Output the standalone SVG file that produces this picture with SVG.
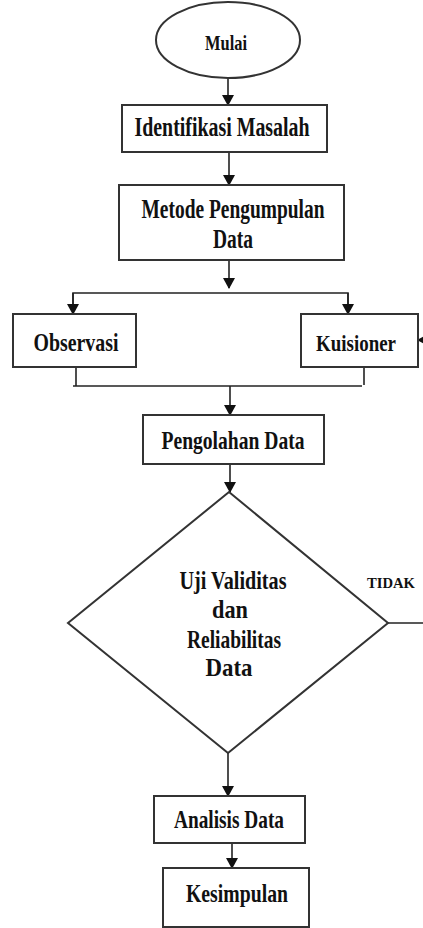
<svg xmlns="http://www.w3.org/2000/svg" width="423" height="928" viewBox="0 0 423 928">
<style>
.b{fill:#fff;stroke:#333;stroke-width:2}
.c{fill:none;stroke:#222;stroke-width:1.6}
.t{font-family:"Liberation Serif","Times New Roman",serif;font-weight:bold;fill:#111;text-anchor:middle}
</style>
<defs>
<marker id="ah" markerUnits="userSpaceOnUse" markerWidth="12" markerHeight="14" refX="10" refY="6" orient="auto">
<path d="M0,0 L11,6 L0,12 Z" fill="#111"/>
</marker>
</defs>
<g id="connectors">
<line class="c" x1="228" y1="78" x2="228" y2="105" marker-end="url(#ah)"/>
<line class="c" x1="229" y1="152" x2="229" y2="185" marker-end="url(#ah)"/>
<line class="c" x1="229" y1="260" x2="229" y2="288" marker-end="url(#ah)"/>
<polyline class="c" points="73,314 73,293 348,293 348,314"/>
<line class="c" x1="73" y1="293" x2="73" y2="314" marker-end="url(#ah)"/>
<line class="c" x1="348" y1="293" x2="348" y2="314" marker-end="url(#ah)"/>
<line class="c" x1="76" y1="367" x2="76" y2="386"/>
<line class="c" x1="364" y1="367" x2="364" y2="385"/>
<line class="c" x1="73" y1="386" x2="362" y2="386"/>
<line class="c" x1="230" y1="386" x2="230" y2="415" marker-end="url(#ah)"/>
<line class="c" x1="230" y1="464" x2="230" y2="492" marker-end="url(#ah)"/>
<line class="c" x1="388" y1="623" x2="423" y2="623"/>
<line class="c" x1="428" y1="340" x2="418" y2="340" marker-end="url(#ah)"/>
<line class="c" x1="228" y1="753" x2="228" y2="796" marker-end="url(#ah)"/>
<line class="c" x1="232" y1="843" x2="232" y2="868" marker-end="url(#ah)"/>
</g>
<g id="mulai">
<ellipse class="b" cx="228" cy="40" rx="72" ry="38"/>
<text class="t" x="226" y="50" font-size="22" textLength="42" lengthAdjust="spacingAndGlyphs">Mulai</text>
</g>
<g id="identifikasi">
<rect class="b" x="122" y="105" width="205" height="47"/>
<text class="t" x="222" y="136" font-size="28" textLength="175" lengthAdjust="spacingAndGlyphs">Identifikasi Masalah</text>
</g>
<g id="metode">
<rect class="b" x="119" y="185" width="225" height="75"/>
<text class="t" x="233" y="218" font-size="27" textLength="183" lengthAdjust="spacingAndGlyphs">Metode Pengumpulan</text>
<text class="t" x="233" y="248" font-size="27" textLength="40" lengthAdjust="spacingAndGlyphs">Data</text>
</g>
<g id="observasi">
<rect class="b" x="13" y="314" width="123" height="53"/>
<text class="t" x="76" y="351" font-size="26" textLength="85" lengthAdjust="spacingAndGlyphs">Observasi</text>
</g>
<g id="kuisioner">
<rect class="b" x="301" y="314" width="117" height="53"/>
<text class="t" x="356" y="351" font-size="24" textLength="80" lengthAdjust="spacingAndGlyphs">Kuisioner</text>
</g>
<g id="pengolahan">
<rect class="b" x="143" y="415" width="181" height="49"/>
<text class="t" x="233" y="449" font-size="25" textLength="143" lengthAdjust="spacingAndGlyphs">Pengolahan Data</text>
</g>
<g id="uji">
<polygon class="b" points="229,492 388,623 228,753 68,623"/>
<text class="t" x="233" y="589" font-size="25" textLength="107" lengthAdjust="spacingAndGlyphs">Uji Validitas</text>
<text class="t" x="230" y="618" font-size="25" textLength="36" lengthAdjust="spacingAndGlyphs">dan</text>
<text class="t" x="234" y="648" font-size="25" textLength="94" lengthAdjust="spacingAndGlyphs">Reliabilitas</text>
<text class="t" x="229" y="676" font-size="25" textLength="47" lengthAdjust="spacingAndGlyphs">Data</text>
<text class="t" x="391" y="588" font-size="15" textLength="48" lengthAdjust="spacingAndGlyphs">TIDAK</text>
</g>
<g id="analisis">
<rect class="b" x="154" y="796" width="151" height="47"/>
<text class="t" x="229" y="828" font-size="25" textLength="110" lengthAdjust="spacingAndGlyphs">Analisis Data</text>
</g>
<g id="kesimpulan">
<rect class="b" x="163" y="868" width="146" height="59"/>
<text class="t" x="237" y="902" font-size="25" textLength="102" lengthAdjust="spacingAndGlyphs">Kesimpulan</text>
</g>
</svg>
